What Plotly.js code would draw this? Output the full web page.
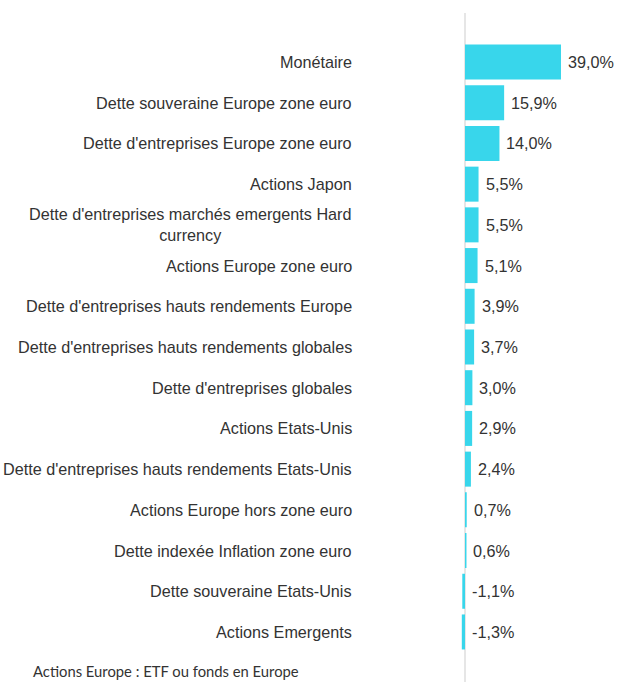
<!DOCTYPE html>
<html>
<head>
<meta charset="utf-8">
<script src="https://cdn.plot.ly/plotly-3.0.1.min.js"></script>
<style>html,body{margin:0;padding:0;background:#fff;}#chart{width:618px;height:682px;}</style>
</head>
<body>
<div id="chart"></div>
<script>
const categories = [
  "Monétaire",
  "Dette souveraine Europe zone euro",
  "Dette d'entreprises Europe zone euro",
  "Actions Japon",
  "Dette d'entreprises marchés emergents Hard<br>currency",
  "Actions Europe zone euro",
  "Dette d'entreprises hauts rendements Europe",
  "Dette d'entreprises hauts rendements globales",
  "Dette d'entreprises globales",
  "Actions Etats-Unis",
  "Dette d'entreprises hauts rendements Etats-Unis",
  "Actions Europe hors zone euro",
  "Dette indexée Inflation zone euro",
  "Dette souveraine Etats-Unis",
  "Actions Emergents"
];
const values = [39.0, 15.9, 14.0, 5.5, 5.5, 5.1, 3.9, 3.7, 3.0, 2.9, 2.4, 0.7, 0.6, -1.1, -1.3];
const footnote = "Actions Europe : ETF ou fonds en Europe";

const W = 618, H = 682;
const M = {l: 360, r: 0, t: 13, b: 0};
const textColor = '#333333';
const labelFont = {family: 'Liberation Sans, Arial, sans-serif', size: 16.2, color: textColor};

const fmt = v => v.toFixed(1).replace('.', ',') + '%';

const annotations = [];
categories.forEach((c, i) => {
  annotations.push({
    xref: 'paper', yref: 'y', x: 0, y: i,
    xanchor: 'right', yanchor: 'middle', xshift: -(M.l - 354),
    text: c, showarrow: false, align: 'center', font: labelFont
  });
  annotations.push({
    xref: 'x', yref: 'y', x: Math.max(values[i], 0), y: i,
    xanchor: 'left', yanchor: 'middle', xshift: 5,
    text: fmt(values[i]), showarrow: false, font: labelFont
  });
});
annotations.push({
  xref: 'paper', yref: 'paper', x: 0, y: 0,
  xanchor: 'left', yanchor: 'bottom', xshift: 31 - M.l, yshift: 0,
  text: footnote, showarrow: false,
  font: {family: 'Lato, Open Sans, sans-serif', size: 14.8, color: textColor}
});

const trace = {
  type: 'bar', orientation: 'h',
  x: values, y: categories.map((c, i) => i),
  marker: {color: '#38d6eb', line: {width: 0}},
  hoverinfo: 'skip'
};

const layout = {
  width: W, height: H,
  margin: M,
  paper_bgcolor: '#fff', plot_bgcolor: '#fff',
  bargap: 0.14,
  showlegend: false,
  xaxis: {
    range: [-42.66, 62.16], showgrid: false, showticklabels: false, ticks: '',
    zeroline: true, zerolinecolor: '#e6e6e6', zerolinewidth: 2, showline: false, fixedrange: true
  },
  yaxis: {
    range: [15.229, -1.204], showgrid: false, showticklabels: false, ticks: '',
    zeroline: false, showline: false, fixedrange: true
  },
  annotations: annotations
};

Plotly.newPlot('chart', [trace], layout, {displayModeBar: false, staticPlot: true});
</script>
</body>
</html>
